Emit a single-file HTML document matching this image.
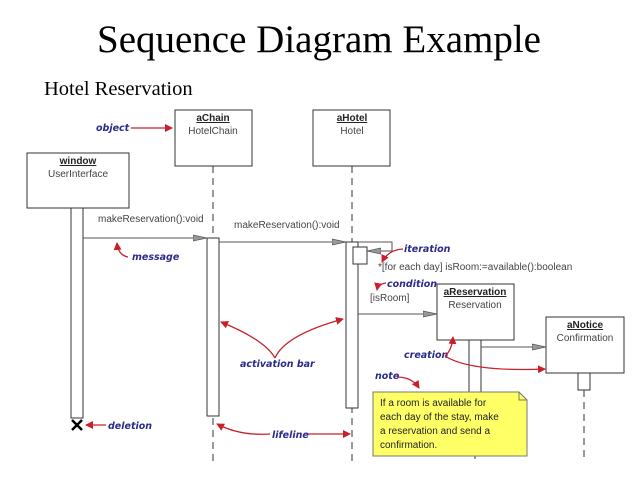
<!DOCTYPE html>
<html><head><meta charset="utf-8"><style>
html,body{margin:0;padding:0;background:#fff;width:638px;height:479px;overflow:hidden}
svg{display:block}
.s{font-family:"Liberation Sans",sans-serif;font-size:10px;fill:#444}
.b{font-family:"Liberation Sans",sans-serif;font-size:10px;font-weight:bold;fill:#222;text-decoration:underline}
.l{font-family:"DejaVu Sans",sans-serif;font-size:9.5px;font-style:italic;font-weight:bold;fill:#2a2a8a}
.r{stroke:#c8202a;stroke-width:1.3;fill:none}
</style></head><body>
<svg width="638" height="479" viewBox="0 0 638 479">
<defs>
<marker id="ra" markerWidth="8" markerHeight="8" refX="7" refY="4" orient="auto" markerUnits="userSpaceOnUse"><path d="M0,0 L8,4 L0,8 Z" fill="#c8202a"/></marker>
<marker id="ga" markerWidth="14" markerHeight="8" refX="14" refY="4" orient="auto" markerUnits="userSpaceOnUse"><path d="M0,1 L14,4 L0,7 Z" fill="#999" stroke="#555" stroke-width="0.8"/></marker>
</defs>
<text x="319" y="52" text-anchor="middle" font-family="Liberation Serif,serif" font-size="39" fill="#000">Sequence Diagram Example</text>
<text x="44" y="95" font-family="Liberation Serif,serif" font-size="20.5" fill="#000">Hotel Reservation</text>
<g stroke="#333" stroke-width="1" fill="#fff">
<rect x="175" y="110" width="77" height="56"/>
<rect x="313" y="110" width="77" height="56"/>
<rect x="27" y="153" width="102" height="55"/>
<rect x="437" y="284" width="77" height="56"/>
<rect x="546" y="317" width="78" height="56"/>
</g>
<g stroke="#333" stroke-dasharray="7,5" fill="none">
<line x1="213" y1="166" x2="213" y2="462"/>
<line x1="352" y1="166" x2="352" y2="462"/>
<line x1="475" y1="440" x2="475" y2="462"/>
<line x1="584" y1="390" x2="584" y2="462"/>
</g>
<g stroke="#333" fill="#fff">
<rect x="71" y="208" width="12" height="210"/>
<rect x="207" y="238" width="12" height="178"/>
<rect x="346" y="242" width="12" height="166"/>
<rect x="353" y="247" width="14" height="17"/>
<rect x="469" y="340" width="12" height="100"/>
<rect x="578" y="373" width="12" height="17"/>
</g>
<g stroke="#555" fill="none">
<line x1="83" y1="238" x2="207" y2="238" marker-end="url(#ga)"/>
<line x1="219" y1="242" x2="346" y2="242" marker-end="url(#ga)"/>
<polyline points="358,242 392,242 392,251 367,251" marker-end="url(#ga)"/>
<line x1="358" y1="314" x2="437" y2="314" marker-end="url(#ga)"/>
<line x1="481" y1="347" x2="546" y2="347" marker-end="url(#ga)"/>
</g>
<path d="M72,420 L82,430 M82,420 L72,430" stroke="#000" stroke-width="2.5"/>
<text class="b" x="213" y="121" text-anchor="middle">aChain</text>
<text class="s" x="213" y="134" text-anchor="middle">HotelChain</text>
<text class="b" x="352" y="121" text-anchor="middle">aHotel</text>
<text class="s" x="352" y="134" text-anchor="middle">Hotel</text>
<text class="b" x="78" y="164" text-anchor="middle">window</text>
<text class="s" x="78" y="177" text-anchor="middle">UserInterface</text>
<text class="b" x="475" y="295" text-anchor="middle">aReservation</text>
<text class="s" x="475" y="308" text-anchor="middle">Reservation</text>
<text class="b" x="585" y="328" text-anchor="middle">aNotice</text>
<text class="s" x="585" y="341" text-anchor="middle">Confirmation</text>
<text class="s" x="98" y="222">makeReservation():void</text>
<text class="s" x="234" y="228">makeReservation():void</text>
<text class="s" x="378" y="270">*[for each day] isRoom:=available():boolean</text>
<text class="s" x="370" y="301">[isRoom]</text>
<path d="M373,392 L519,392 L527,400 L527,456 L373,456 Z" fill="#ffff66" stroke="#777"/>
<path d="M519,392 L519,400 L527,400" fill="none" stroke="#777"/>
<g class="s" style="fill:#222">
<text x="380" y="406">If a room is available for</text>
<text x="380" y="420">each day of the stay, make</text>
<text x="380" y="434">a reservation and send a</text>
<text x="380" y="448">confirmation.</text>
</g>
<text class="l" x="96" y="131">object</text>
<text class="l" x="132" y="260">message</text>
<text class="l" x="404" y="252">iteration</text>
<text class="l" x="387" y="287">condition</text>
<text class="l" x="404" y="358">creation</text>
<text class="l" x="375" y="379">note</text>
<text class="l" x="240" y="367">activation bar</text>
<text class="l" x="108" y="429">deletion</text>
<text class="l" x="272" y="438">lifeline</text>
<g class="r">
<line x1="131" y1="128" x2="172" y2="128" marker-end="url(#ra)"/>
<path d="M128,257 Q118,255 117,243" marker-end="url(#ra)"/>
<path d="M403,249 Q388,250 382,262" marker-end="url(#ra)"/>
<path d="M386,283 Q378,284 377,290" marker-end="url(#ra)"/>
<path d="M445,356 Q452,350 453,337" marker-end="url(#ra)"/>
<path d="M445,356 Q470,372 545,369" marker-end="url(#ra)"/>
<path d="M397,377 Q412,377 419,388" marker-end="url(#ra)"/>
<path d="M275,358 Q265,340 221,322" marker-end="url(#ra)"/>
<path d="M275,358 Q285,335 343,319" marker-end="url(#ra)"/>
<line x1="106" y1="425" x2="86" y2="425" marker-end="url(#ra)"/>
<path d="M270,434 Q240,436 217,424" marker-end="url(#ra)"/>
<line x1="308" y1="434" x2="350" y2="434" marker-end="url(#ra)"/>
</g>
</svg>
</body></html>
